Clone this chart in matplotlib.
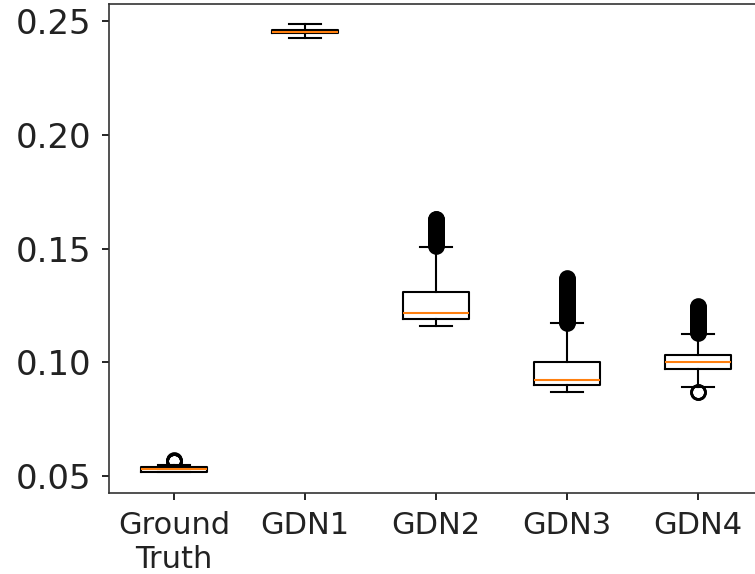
import numpy as np
import matplotlib
matplotlib.use('Agg')
import matplotlib.pyplot as plt

# values
labels = ['Ground\nTruth', 'GDN1', 'GDN2', 'GDN3', 'GDN4']
whislo = [0.0515, 0.2429, 0.1159, 0.0869, 0.0889]
q1 = [0.0515, 0.2448, 0.1188, 0.0899, 0.0968]
med = [0.0527, 0.2455, 0.1217, 0.0921, 0.1001]
q3 = [0.0539, 0.2462, 0.1310, 0.1001, 0.1030]
whishi = [0.0546, 0.2489, 0.1508, 0.1170, 0.1122]

fliers_gt = [0.0563, 0.0565, 0.0566, 0.0568]
fliers_gdn1 = []
fliers_gdn2 = [0.1511, 0.1514, 0.1518, 0.1521, 0.1525, 0.1529, 0.1532, 0.1536,
               0.1540, 0.1543, 0.1547, 0.1551, 0.1554, 0.1558, 0.1562, 0.1565,
               0.1569, 0.1573, 0.1576, 0.1580, 0.1584, 0.1587, 0.1591, 0.1595,
               0.1598, 0.1602, 0.1606, 0.1609, 0.1613, 0.1617, 0.1620, 0.1624,
               0.1628, 0.1630]
fliers_gdn3 = [0.1173, 0.1177, 0.1181, 0.1184, 0.1188, 0.1192, 0.1195, 0.1199,
               0.1203, 0.1206, 0.1210, 0.1214, 0.1217, 0.1221, 0.1225, 0.1228,
               0.1232, 0.1236, 0.1239, 0.1243, 0.1247, 0.1250, 0.1254, 0.1258,
               0.1261, 0.1265, 0.1269, 0.1272, 0.1276, 0.1280, 0.1283, 0.1287,
               0.1291, 0.1294, 0.1298, 0.1302, 0.1305, 0.1309, 0.1313, 0.1316,
               0.1320, 0.1324, 0.1327, 0.1331, 0.1335, 0.1338, 0.1342, 0.1346,
               0.1349, 0.1353, 0.1357, 0.1360, 0.1364, 0.1368]
fliers_gdn4 = [0.0866, 0.0868, 0.1126, 0.1130, 0.1133, 0.1137, 0.1141, 0.1144,
               0.1148, 0.1152, 0.1155, 0.1159, 0.1163, 0.1166, 0.1170, 0.1174,
               0.1177, 0.1181, 0.1185, 0.1188, 0.1192, 0.1196, 0.1199, 0.1203,
               0.1207, 0.1210, 0.1214, 0.1218, 0.1221, 0.1225, 0.1229, 0.1232,
               0.1236, 0.1240, 0.1243, 0.1245]
fliers = [fliers_gt, fliers_gdn1, fliers_gdn2, fliers_gdn3, fliers_gdn4]

stats = []
for i in range(len(labels)):
    stats.append({'label': labels[i], 'whislo': whislo[i], 'q1': q1[i],
                  'med': med[i], 'q3': q3[i], 'whishi': whishi[i],
                  'fliers': np.array(fliers[i])})

fig = plt.figure(figsize=(7.55, 5.74), dpi=100)
ax = fig.add_axes([108.5/755, 81/574, 655/755, 489/574])

lw = 1.5
ax.bxp(stats,
       boxprops=dict(linewidth=lw, color='black'),
       whiskerprops=dict(linewidth=lw, color='black'),
       capprops=dict(linewidth=lw, color='black'),
       medianprops=dict(linewidth=lw, color='#ff7f0e'),
       flierprops=dict(marker='o', markersize=10, markeredgewidth=2,
                       markerfacecolor='none', markeredgecolor='black'))

ax.set_xlim(0.5, 5.5)
ax.set_ylim(0.0423, 0.2577)
ax.set_yticks([0.05, 0.10, 0.15, 0.20, 0.25])
ax.set_yticklabels(['0.05', '0.10', '0.15', '0.20', '0.25'])
ax.tick_params(axis='y', labelsize=24.5, width=1.2, length=5, pad=7,
               labelcolor='#222222')
ax.tick_params(axis='x', labelsize=22, width=1.2, length=5, pad=8,
               labelcolor='#222222')
for s in ax.spines.values():
    s.set_linewidth(1.2)
    s.set_color('#333333')

fig.savefig('out.png', dpi=100)
